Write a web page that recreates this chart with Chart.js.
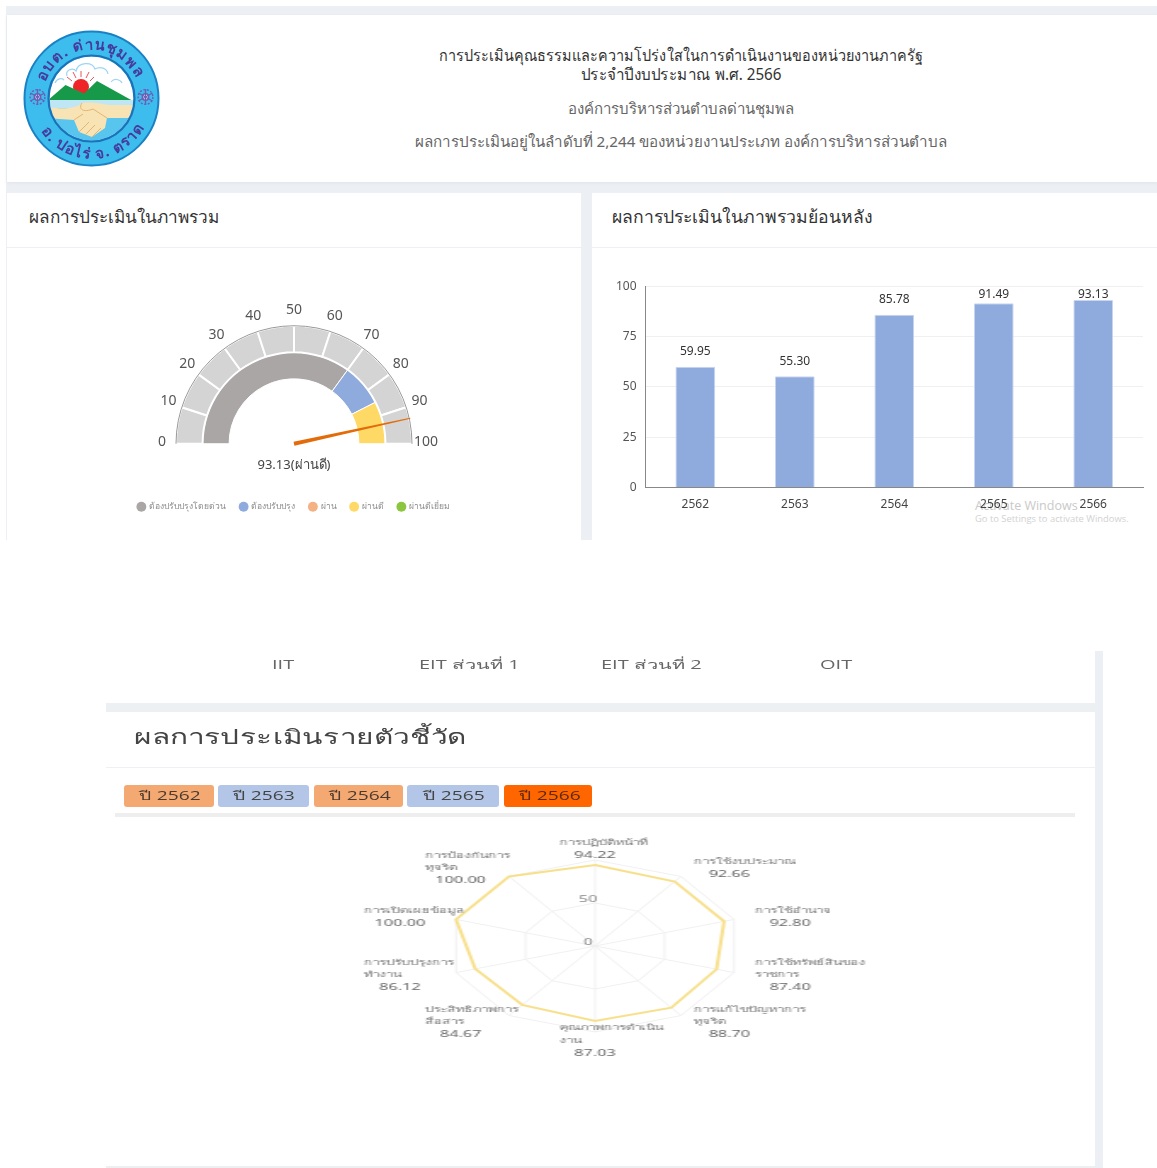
<!DOCTYPE html>
<html lang="th">
<head>
<meta charset="utf-8">
<title>ผลการประเมิน</title>
<script src="https://cdn.jsdelivr.net/npm/chart.js@4/dist/chart.umd.min.js"></script>
<style>
  html, body { margin: 0; padding: 0; background: #fff; }
  body { position: relative; width: 1157px; height: 1168px; overflow: hidden; font-family: "Noto Sans", "Liberation Sans", sans-serif; color: #444; }
  .box { position: absolute; }
  .gray { background: #eceff4; }
  .white { background: #fff; }
  .t { position: absolute; white-space: nowrap; line-height: 1; }
  .c { transform: translate(-50%, -50%); }
  .st { transform-origin: 0 50%; transform: translateY(-50%) scaleX(1.6); font-family: "Open Sans", "Noto Sans", sans-serif; filter: blur(0.35px); }
  canvas { position: absolute; }
  .btn { position: absolute; top: 785px; height: 22px; border-radius: 3px; }
</style>
</head>
<body>
<!-- top part -->
<div class="box gray" style="left:6px;top:6px;width:1151px;height:534px"></div>
<div class="box white" style="left:7px;top:15px;width:1150px;height:167px;box-shadow:0 1px 3px #dfe3e9"></div>
<div class="box white" style="left:7px;top:193px;width:574px;height:347px"></div>
<div class="box white" style="left:592px;top:193px;width:565px;height:347px"></div>
<div class="box" style="left:7px;top:247px;width:574px;height:1px;background:#eceff4"></div>
<div class="box" style="left:592px;top:247px;width:565px;height:1px;background:#eceff4"></div>

<svg class="box" style="left:23px;top:30px;filter:blur(0.4px)" width="137" height="137" viewBox="0 0 137 137">
  <defs>
    <path id="arcTop" d="M 23.7 48.6 A 49 49 0 0 1 111.8 45.5"/>
    <path id="arcBottom" d="M 16.5 98.5 A 60 60 0 0 0 122.9 93.9"/>
    <clipPath id="innerClip"><circle cx="68.5" cy="68.5" r="42"/></clipPath>
    <g id="flake" fill="none" stroke="#6a5fb5" stroke-width="1.4">
      <circle r="3.2" fill="#fff" stroke="#6a5fb5"/>
      <path d="M0 -8V8M-7 -4L7 4M-7 4L7 -4"/>
      <circle r="7.4" stroke-dasharray="2 1.6"/>
    </g>
  </defs>
  <circle cx="68.5" cy="68.5" r="67" fill="#3dbdee" stroke="#1b80c4" stroke-width="2"/>
  <g clip-path="url(#innerClip)">
    <rect x="20" y="20" width="100" height="100" fill="#fff"/>
    <path d="M44 46c-2-6 6-9 9-5 2-9 16-10 19-2 5-3 12-1 13 5M32 53c2-5 7-5 9-3M88 52c3-4 9-3 11 1" fill="none" stroke="#9cd6f2" stroke-width="1.2"/>
    <path d="M58 47V41M53 48L50 42M63 48L66 42M49 51L44 47M67 51L71 47" stroke="#e9565a" stroke-width="1"/>
    <circle cx="58" cy="57" r="8" fill="#ee2428"/>
    <path d="M24 71 L42.5 55 L61 63.5 L74 51 L110 71 Z" fill="#169a4a"/>
    <rect x="24" y="70" width="90" height="8" fill="#bfe6f5"/>
    <rect x="24" y="78" width="90" height="36" fill="#58c5ee"/>
    <path d="M24 77 C40 79 52 79 59 73 C70 71 82 75 89 75 L112 75 L112 88 L84 88 L82 98 L69 107 L56 102 L51 90 L24 88 Z" fill="#f8e3b4"/>
    <path d="M59 73C55 79 60 83 70 79L84 88M51 90L60 84M56 102L66 92M62 105L72 95M69 107L78 98" fill="none" stroke="#e3b573" stroke-width="1"/>
  </g>
  <circle cx="68.5" cy="68.5" r="43" fill="none" stroke="#1b72b8" stroke-width="2.2"/>
  <text font-size="15" fill="#463a9c" font-weight="bold" letter-spacing="1"><textPath href="#arcTop" startOffset="50%" text-anchor="middle">อบต. ด่านชุมพล</textPath></text>
  <text font-size="15" fill="#463a9c" font-weight="bold" letter-spacing="1"><textPath href="#arcBottom" startOffset="50%" text-anchor="middle">อ. บ่อไร่ จ. ตราด</textPath></text>
  <use href="#flake" x="14.5" y="67"/>
  <use href="#flake" x="122.5" y="67"/>
</svg>

<div class="t c" style="left:681px;top:55px;font-size:16px;color:#333;transform:translate(-50%,-50%) scaleX(.9)">การประเมินคุณธรรมและความโปร่งใสในการดำเนินงานของหน่วยงานภาครัฐ</div>
<div class="t c" style="left:681px;top:74px;font-size:16px;color:#333;transform:translate(-50%,-50%) scaleX(.95)">ประจำปีงบประมาณ พ.ศ. 2566</div>
<div class="t c" style="left:681px;top:108px;font-size:15px;color:#666">องค์การบริหารส่วนตำบลด่านชุมพล</div>
<div class="t c" style="left:681px;top:142px;font-size:15.2px;color:#666">ผลการประเมินอยู่ในลำดับที่ 2,244 ของหน่วยงานประเภท องค์การบริหารส่วนตำบล</div>
<div class="t" style="left:29px;top:208px;font-size:17.2px;color:#333">ผลการประเมินในภาพรวม</div>
<div class="t" style="left:612px;top:208px;font-size:17.6px;color:#333">ผลการประเมินในภาพรวมย้อนหลัง</div>

<div class="t" style="left:975px;top:497px;font:12.5px 'Open Sans',sans-serif;color:#c9c9c9">Activate Windows</div>
<div class="t" style="left:975px;top:512px;font:9.4px 'Open Sans',sans-serif;color:#d2d2d2">Go to Settings to activate Windows.</div>
<canvas id="gaugeChart" style="left:7px;top:279px"></canvas>
<canvas id="barChart" style="left:607px;top:270px"></canvas>

<!-- bottom part -->
<div class="box gray" style="left:1095px;top:651px;width:8px;height:517px"></div>
<div class="box" style="left:106px;top:703px;width:990px;height:9px;background:#edf0f3"></div>
<div class="box" style="left:106px;top:767px;width:990px;height:1px;background:#eef0f3"></div>
<div class="box" style="left:115px;top:813px;width:960px;height:4px;background:#eeeeee"></div>
<div class="box" style="left:106px;top:1166px;width:990px;height:2px;background:#edf0f3"></div>

<div class="t st" style="left:272px;top:665px;font-size:12.5px;color:#666">IIT</div>
<div class="t st" style="left:419px;top:665px;font-size:12.5px;color:#666">EIT ส่วนที่ 1</div>
<div class="t st" style="left:601px;top:665px;font-size:12.5px;color:#666">EIT ส่วนที่ 2</div>
<div class="t st" style="left:820px;top:665px;font-size:12.5px;color:#666">OIT</div>
<div class="t st" style="left:134px;top:737px;font-size:20px;color:#444;transform:translateY(-50%) scaleX(1.49)">ผลการประเมินรายตัวชี้วัด</div>

<div class="btn" style="left:124px;width:90px;background:#f4a973"></div>
<div class="btn" style="left:218px;width:91px;background:#b4c6e7"></div>
<div class="btn" style="left:314px;width:89px;background:#f4a973"></div>
<div class="btn" style="left:407px;width:92px;background:#b4c6e7"></div>
<div class="btn" style="left:504px;width:88px;background:#ff6600"></div>
<div class="t st" style="left:139px;top:796px;font-size:12px;color:#4a3a30">ปี 2562</div>
<div class="t st" style="left:233px;top:796px;font-size:12px;color:#444">ปี 2563</div>
<div class="t st" style="left:329px;top:796px;font-size:12px;color:#4a3a30">ปี 2564</div>
<div class="t st" style="left:423px;top:796px;font-size:12px;color:#444">ปี 2565</div>
<div class="t st" style="left:519px;top:796px;font-size:12px;color:#5a2a10">ปี 2566</div>

<div id="radarWrap" style="position:absolute;left:323px;top:830px;width:320px;height:232px;transform-origin:0 0;transform:scaleX(1.7);filter:blur(0.35px)">
  <canvas id="radarChart" style="left:0;top:0"></canvas>
</div>

<script>
// gauge values
const gaugeTicks = [0, 10, 20, 30, 40, 50, 60, 70, 80, 90, 100];
const gaugeScale = [10, 10, 10, 10, 10, 10, 10, 10, 10, 10];
const gaugeLabels = ['ต้องปรับปรุงโดยด่วน', 'ต้องปรับปรุง', 'ผ่าน', 'ผ่านดี', 'ผ่านดีเยี่ยม'];
const gaugeBands = [70, 15, 0, 15, 0];
const gaugeValue = 93.13;
const gaugeText = '93.13(ผ่านดี)';

// yearly results
const years = ['2562', '2563', '2564', '2565', '2566'];
const yearValues = [59.95, 55.30, 85.78, 91.49, 93.13];

// indicators
const radarLabels = [
    ['การปฏิบัติหน้าที่'],
    ['การใช้งบประมาณ'],
    ['การใช้อำนาจ'],
    ['การใช้ทรัพย์สินของ', 'ราชการ'],
    ['การแก้ไขปัญหาการ', 'ทุจริต'],
    ['คุณภาพการดำเนิน', 'งาน'],
    ['ประสิทธิภาพการ', 'สื่อสาร'],
    ['การปรับปรุงการ', 'ทำงาน'],
    ['การเปิดเผยข้อมูล'],
    ['การป้องกันการ', 'ทุจริต']
];
const radarValues = [94.22, 92.66, 92.80, 87.40, 88.70, 87.03, 84.67, 86.12, 100.00, 100.00];

const bandColors = ['#aaa6a6', '#8faadc', '#f4b183', '#ffd966', '#8cc63f'];
const textFont = '"Noto Sans", "Liberation Sans", sans-serif';

// Draws tick numbers, rim, needle and value of the gauge
const gaugeDecor = {
    id: 'gaugeDecor',
    afterDatasetsDraw(chart) {
        const arc = chart.getDatasetMeta(0).data[0];
        const { x, y, outerRadius } = arc;
        const ctx = chart.ctx;
        const angleOf = v => Math.PI + (v / 100) * Math.PI;
        ctx.save();

        ctx.strokeStyle = '#999';
        ctx.lineWidth = 1;
        ctx.beginPath();
        ctx.arc(x, y, outerRadius, Math.PI, 2 * Math.PI);
        ctx.stroke();

        ctx.fillStyle = '#555';
        ctx.font = '14px ' + textFont;
        ctx.textAlign = 'center';
        ctx.textBaseline = 'middle';
        gaugeTicks.forEach(tick => {
            const a = angleOf(tick);
            ctx.fillText(tick, x + Math.cos(a) * (outerRadius + 14), y + Math.sin(a) * (outerRadius + 14) - 2);
        });

        const a = angleOf(gaugeValue);
        const nx = Math.cos(a + Math.PI / 2), ny = Math.sin(a + Math.PI / 2);
        ctx.fillStyle = '#e36c0a';
        ctx.beginPath();
        ctx.moveTo(x - nx * 2, y - ny * 2);
        ctx.lineTo(x + Math.cos(a) * (outerRadius + 1) - nx * 0.4, y + Math.sin(a) * (outerRadius + 1) - ny * 0.4);
        ctx.lineTo(x + Math.cos(a) * (outerRadius + 1) + nx * 0.4, y + Math.sin(a) * (outerRadius + 1) + ny * 0.4);
        ctx.lineTo(x + nx * 2, y + ny * 2);
        ctx.closePath();
        ctx.fill();

        ctx.font = '13px ' + textFont;
        ctx.fillStyle = '#444';
        ctx.fillText(gaugeText, x, y + 21.5);
        ctx.restore();
    }
};

function createGaugeChart() {
    const canvas = document.getElementById('gaugeChart');
    canvas.width = 574;
    canvas.height = 242;
    new Chart(canvas.getContext('2d'), {
        type: 'doughnut',
        data: {
            labels: gaugeLabels,
            datasets: [
                { data: gaugeScale, backgroundColor: '#d4d4d4', borderColor: '#fff', borderWidth: 2 },
                { data: gaugeBands, backgroundColor: bandColors, borderColor: '#fff', borderWidth: 1 }
            ]
        },
        options: {
            responsive: false,
            animation: false,
            rotation: -90,
            circumference: 180,
            radius: 118,
            cutout: '55%',
            layout: { padding: { top: 2 } },
            plugins: {
                tooltip: { enabled: false },
                legend: {
                    position: 'bottom',
                    labels: {
                        usePointStyle: true,
                        pointStyle: 'circle',
                        boxWidth: 7,
                        boxHeight: 7,
                        padding: 14,
                        font: { family: textFont, size: 8.5 },
                        generateLabels: () => gaugeLabels.map((text, i) => ({
                            text,
                            fillStyle: bandColors[i],
                            strokeStyle: bandColors[i],
                            fontColor: '#8a8a8a',
                            pointStyle: 'circle',
                            lineWidth: 0,
                            index: i
                        }))
                    }
                }
            }
        },
        plugins: [gaugeDecor]
    });
}

// Value above each bar, kept under the top of the plot
const barValueLabels = {
    id: 'barValueLabels',
    afterDatasetsDraw(chart) {
        const ctx = chart.ctx;
        const top = chart.scales.y.top;
        ctx.save();
        ctx.fillStyle = '#333';
        ctx.font = '12px ' + textFont;
        ctx.textAlign = 'center';
        ctx.textBaseline = 'middle';
        chart.getDatasetMeta(0).data.forEach((bar, i) => {
            ctx.fillText(yearValues[i].toFixed(2), bar.x, Math.max(bar.y - 15, top + 8));
        });
        ctx.restore();
    }
};

function createBarChart() {
    const canvas = document.getElementById('barChart');
    canvas.width = 550;
    canvas.height = 244;
    new Chart(canvas.getContext('2d'), {
        type: 'bar',
        data: {
            labels: years,
            datasets: [{
                data: yearValues,
                backgroundColor: '#8faadc',
                borderColor: '#c9d6ee',
                borderWidth: 1,
                borderRadius: 1,
                barPercentage: 0.4,
                categoryPercentage: 1
            }]
        },
        options: {
            responsive: false,
            animation: false,
            layout: { padding: { top: 7, right: 14, bottom: 0 } },
            plugins: { legend: { display: false }, tooltip: { enabled: false } },
            scales: {
                x: {
                    grid: { display: false },
                    border: { color: '#888' },
                    ticks: { color: '#444', font: { family: textFont, size: 12 }, padding: 2 }
                },
                y: {
                    min: 0,
                    max: 100,
                    ticks: { stepSize: 25, color: '#555', font: { family: textFont, size: 12 }, padding: 9 },
                    grid: { color: '#f0f0f0', drawTicks: false },
                    border: { color: '#888' }
                }
            }
        },
        plugins: [barValueLabels]
    });
}

// Indicator names with the value under them, left aligned in a small block
const labelDx = [0, 28.5, 33, 33, 28.5, 0, -28.5, -33, -33, -28.5];
const labelDy = [-17, -15, -9, -10, -6, -4, -6, -10, -9, -21];
const radarText = {
    id: 'radarText',
    afterDraw(chart) {
        const scale = chart.scales.r;
        const ctx = chart.ctx;
        const blockHalf = 21;
        const lineHeight = 12.4;
        ctx.save();
        ctx.textBaseline = 'middle';
        radarLabels.forEach((lines, i) => {
            const p = scale.getPointPosition(i, scale.drawingArea);
            const x = p.x + labelDx[i];
            let y = p.y + labelDy[i];
            ctx.font = '8px ' + textFont;
            ctx.fillStyle = '#777';
            ctx.textAlign = 'left';
            lines.forEach(line => {
                ctx.fillText(line, x - blockHalf, y);
                y += lineHeight;
            });
            ctx.font = '9.5px ' + textFont;
            ctx.fillStyle = '#666';
            ctx.textAlign = 'center';
            ctx.fillText(radarValues[i].toFixed(2), x, y);
        });
        // tick numbers sit a little above their ring
        ctx.font = '9.5px ' + textFont;
        ctx.fillStyle = '#888';
        scale.ticks.forEach(tick => {
            if (tick.value === scale.max) return;
            ctx.fillText(tick.value, scale.xCenter - 4, scale.yCenter - scale.getDistanceFromCenterForValue(tick.value) - 4);
        });
        ctx.restore();
    }
};

function createRadarChart() {
    const canvas = document.getElementById('radarChart');
    canvas.width = 320;
    canvas.height = 232;
    new Chart(canvas.getContext('2d'), {
        type: 'radar',
        data: {
            labels: radarLabels.map(lines => lines.join(' ')),
            datasets: [{
                data: radarValues,
                borderColor: '#f7e08c',
                borderWidth: 2,
                fill: false,
                pointRadius: 0,
                tension: 0
            }]
        },
        options: {
            responsive: false,
            animation: false,
            layout: { padding: { top: 30, bottom: 30 } },
            plugins: { legend: { display: false }, tooltip: { enabled: false } },
            scales: {
                r: {
                    min: 0,
                    max: 100,
                    ticks: { stepSize: 50, display: false },
                    grid: { color: '#f0f0f0' },
                    angleLines: { color: '#f0f0f0' },
                    pointLabels: { display: false }
                }
            }
        },
        plugins: [radarText]
    });
}

document.addEventListener('DOMContentLoaded', () => {
    createGaugeChart();
    createBarChart();
    createRadarChart();
});
</script>
</body>
</html>
